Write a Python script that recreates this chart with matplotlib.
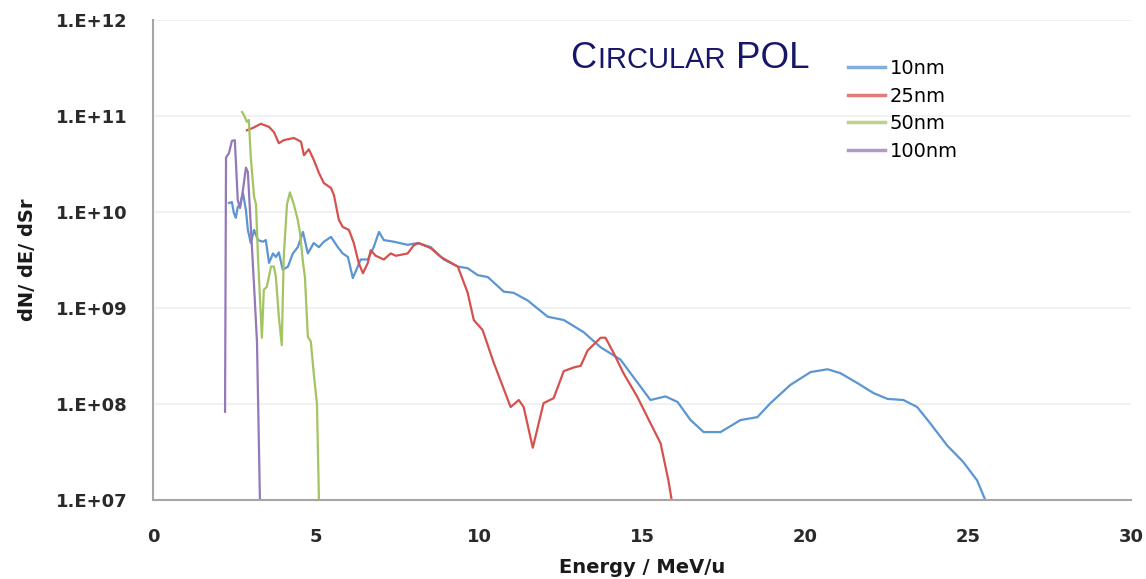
import math
import matplotlib
matplotlib.use("Agg")
import matplotlib.pyplot as plt
from matplotlib.ticker import FixedLocator, FuncFormatter, NullLocator

# spectra: energy (MeV/u) and dN/dE/dSr
e_10nm = [2.33, 2.42, 2.48, 2.54, 2.60, 2.67, 2.76, 2.85, 2.91, 3.00, 3.10, 3.22, 3.37, 3.46,
          3.56, 3.68, 3.77, 3.86, 3.98, 4.14, 4.29, 4.44, 4.60, 4.75, 4.93, 5.09, 5.24, 5.46,
          5.67, 5.82, 5.98, 6.13, 6.28, 6.37, 6.59, 6.77, 6.93, 7.08, 7.39, 7.81, 8.12, 8.52,
          8.92, 9.35, 9.65, 9.96, 10.27, 10.76, 11.06, 11.49, 12.11, 12.60, 13.21, 13.73,
          14.34, 14.74, 15.26, 15.72, 16.09, 16.49, 16.89, 17.41, 18.02, 18.54, 18.94, 19.55,
          20.17, 20.69, 21.08, 21.61, 22.10, 22.53, 23.02, 23.44, 23.84, 24.36, 24.85, 25.28,
          25.53]
n_10nm = [1.24e10, 1.27e10, 9.8e9, 8.7e9, 1.13e10, 1.18e10, 1.58e10, 1.05e10, 6.5e9, 4.75e9,
          6.5e9, 5.1e9, 4.9e9, 5.1e9, 2.95e9, 3.7e9, 3.4e9, 3.8e9, 2.5e9, 2.7e9, 3.7e9, 4.3e9,
          6.2e9, 3.7e9, 4.75e9, 4.3e9, 4.9e9, 5.5e9, 4.3e9, 3.7e9, 3.4e9, 2.05e9, 2.7e9, 3.2e9,
          3.2e9, 4.3e9, 6.2e9, 5.1e9, 4.9e9, 4.55e9, 4.75e9, 4.3e9, 3.2e9, 2.7e9, 2.6e9, 2.2e9,
          2.1e9, 1.48e9, 1.44e9, 1.2e9, 8.1e8, 7.5e8, 5.6e8, 3.9e8, 2.9e8, 1.9e8, 1.1e8, 1.2e8,
          1.05e8, 6.8e7, 5.1e7, 5.1e7, 6.8e7, 7.3e7, 1.02e8, 1.58e8, 2.15e8, 2.3e8, 2.1e8,
          1.65e8, 1.3e8, 1.13e8, 1.1e8, 9.3e7, 6.3e7, 3.7e7, 2.5e7, 1.6e7, 1.0e7]

e_25nm = [2.88, 3.06, 3.31, 3.56, 3.71, 3.86, 4.01, 4.32, 4.54, 4.63, 4.78, 4.93, 5.09, 5.24,
          5.46, 5.55, 5.70, 5.82, 6.01, 6.16, 6.31, 6.44, 6.59, 6.68, 6.83, 7.08, 7.29, 7.45,
          7.81, 8.00, 8.15, 8.52, 8.83, 9.35, 9.65, 9.84, 10.11, 10.45, 10.97, 11.22, 11.37,
          11.65, 11.98, 12.29, 12.60, 12.90, 13.12, 13.33, 13.73, 13.88, 14.13, 14.43, 14.86,
          15.26, 15.57, 15.81, 15.91]
n_25nm = [7.1e10, 7.5e10, 8.3e10, 7.7e10, 6.8e10, 5.2e10, 5.6e10, 5.9e10, 5.4e10, 3.9e10,
          4.5e10, 3.5e10, 2.55e10, 2.0e10, 1.78e10, 1.5e10, 8.3e9, 7.0e9, 6.5e9, 4.75e9, 2.95e9,
          2.3e9, 2.95e9, 4.0e9, 3.5e9, 3.2e9, 3.7e9, 3.5e9, 3.7e9, 4.5e9, 4.75e9, 4.2e9, 3.4e9,
          2.7e9, 1.45e9, 7.5e8, 5.9e8, 2.7e8, 9.3e7, 1.1e8, 9.3e7, 3.5e7, 1.02e8, 1.15e8, 2.2e8,
          2.4e8, 2.5e8, 3.6e8, 4.9e8, 4.9e8, 3.4e8, 2.1e8, 1.18e8, 6.3e7, 3.9e7, 1.6e7, 1.0e7]

e_50nm = [2.73, 2.79, 2.88, 2.94, 3.00, 3.10, 3.16, 3.22, 3.34, 3.40, 3.49, 3.62, 3.71, 3.77,
          3.86, 3.95, 4.01, 4.11, 4.20, 4.32, 4.44, 4.51, 4.60, 4.66, 4.75, 4.84, 4.93, 5.03,
          5.09]
n_50nm = [1.1e11, 1.02e11, 8.7e10, 9.1e10, 3.7e10, 1.44e10, 1.2e10, 3.4e9, 4.9e8, 1.55e9,
          1.66e9, 2.7e9, 2.7e9, 2.1e9, 8.1e8, 4.1e8, 3.4e9, 1.2e10, 1.6e10, 1.2e10, 8.3e9,
          6.0e9, 3.0e9, 2.1e9, 5.0e8, 4.5e8, 2.1e8, 1.0e8, 1.0e7]

e_100nm = [2.21, 2.24, 2.33, 2.42, 2.51, 2.60, 2.67, 2.76, 2.85, 2.91, 3.06, 3.10, 3.19, 3.28]
n_100nm = [8.3e7, 3.7e10, 4.1e10, 5.5e10, 5.6e10, 1.33e10, 1.1e10, 1.7e10, 2.9e10, 2.6e10,
           3.0e9, 1.7e9, 4.4e8, 1.0e7]

labels = ["10nm", "25nm", "50nm", "100nm"]
colors = ["#5b95d2", "#d6514d", "#a3c462", "#9478b8"]
y_ticks = [1e7, 1e8, 1e9, 1e10, 1e11, 1e12]
x_ticks = [0, 5, 10, 15, 20, 25, 30]

W, H = 1146, 579
fig = plt.figure(figsize=(W / 100, H / 100), dpi=100)
ax = fig.add_axes([153 / W, 1 - 500 / H, (1131 - 153) / W, (500 - 20) / H])

series = [(e_10nm, n_10nm), (e_25nm, n_25nm), (e_50nm, n_50nm), (e_100nm, n_100nm)]
for (e, n), lab, c in zip(series, labels, colors):
    ax.plot(e, n, color=c, lw=1.6, label=lab, solid_joinstyle="round")

ax.set_yscale("log")
ax.set_ylim(1e7, 1e12)
ax.set_xlim(0, 30)
ax.yaxis.set_major_locator(FixedLocator(y_ticks))
ax.yaxis.set_minor_locator(NullLocator())
ax.yaxis.set_major_formatter(FuncFormatter(lambda v, p: "1.E+%02d" % round(math.log10(v))))
ax.xaxis.set_major_locator(FixedLocator(x_ticks))
ax.grid(axis="y", color="#efefef", lw=1.2)
ax.set_axisbelow(True)

for s in ("top", "right"):
    ax.spines[s].set_visible(False)
for s in ("left", "bottom"):
    ax.spines[s].set_color("#a6a6a6")
    ax.spines[s].set_linewidth(1.5)
ax.tick_params(length=0, labelsize=13, colors="#2a2a2a")
ax.tick_params(axis="y", pad=18)
ax.tick_params(axis="x", pad=20)
for lbl in ax.get_xticklabels() + ax.get_yticklabels():
    lbl.set_fontweight("semibold")

ax.set_xlabel("Energy / MeV/u", fontsize=14, fontweight="bold", color="#1a1a1a", labelpad=9)
ax.set_ylabel("dN/ dE/ dSr", fontsize=14, fontweight="bold", color="#1a1a1a", labelpad=14)

leg = ax.legend(loc="upper left", bbox_to_anchor=(840 / W, 1 - 51 / H),
                bbox_transform=fig.transFigure, frameon=False, fontsize=14,
                handlelength=1.9, handletextpad=0.25, labelspacing=0.45, borderaxespad=0)
for h in leg.get_lines():
    h.set_linewidth(2.5)
    h.set_alpha(0.75)

# small-caps style heading
navy = "#16166a"
renderer = fig.canvas.get_renderer()
x0, base = 570, 68
parts = [("C", 26), ("IRCULAR ", 21), ("POL", 26.5)]
for txt, sz in parts:
    t = fig.text(x0 / W, 1 - base / H, txt, fontsize=sz, color=navy,
                 family="Liberation Sans", va="baseline", ha="left")
    x0 = t.get_window_extent(renderer).x1 + 2

fig.savefig("out.png", dpi=100)
